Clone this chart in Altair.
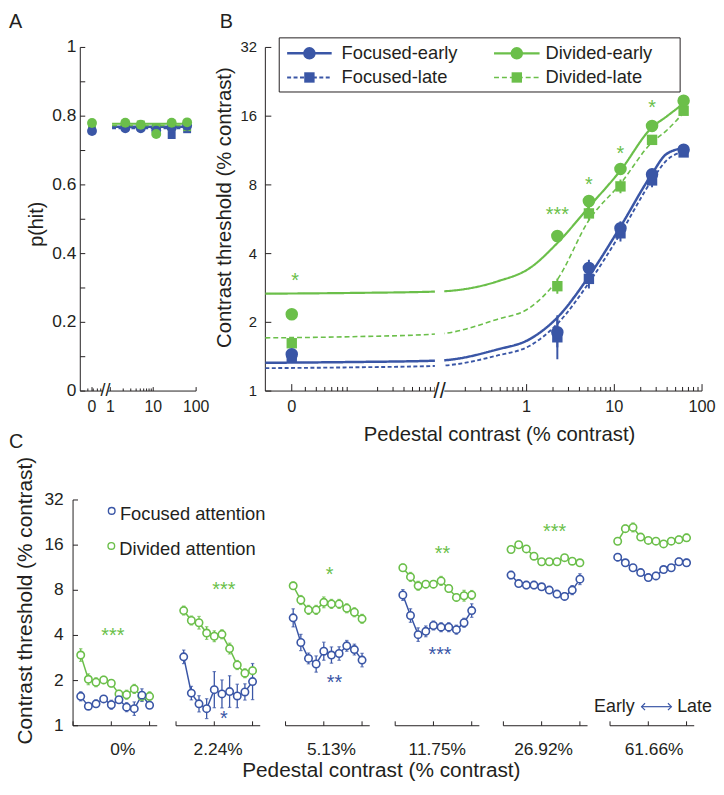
import altair as alt
import pandas as pd

INK = "#231F20"
BLUE = "#3A56A6"
GREEN = "#6BBF4A"
FONT = "Liberation Sans"

SERIES = ["Focused-early", "Divided-early", "Focused-late", "Divided-late"]
SERIES_COLOR = [BLUE, GREEN, BLUE, GREEN]
SERIES_DASH = [[1, 0], [1, 0], [4, 2.5], [5, 3]]
SERIES_WIDTH = [2.5, 1.6, 2.5, 1.6]

# ---------------- Panel A : p(hit) ----------------
A_ZERO = 0.375          # where the 0% pedestal sits on the broken log axis
A_BREAK = 0.77
a_x = [A_ZERO, 2.24, 5.13, 11.75, 26.92, 61.66]
a_focused_early = [0.757, 0.765, 0.765, 0.758, 0.766, 0.772]
a_focused_late = [0.765, 0.772, 0.770, 0.765, 0.745, 0.762]
a_divided_early = [0.780, 0.781, 0.775, 0.748, 0.781, 0.782]
a_divided_late = [0.772, 0.775, 0.776, 0.766, 0.768, 0.768]
a_fit_x = [1.1, 61.66]
a_fit_focused_early = [0.769, 0.769]
a_fit_focused_late = [0.765, 0.765]
a_fit_divided_early = [0.778, 0.778]
a_fit_divided_late = [0.773, 0.773]
a_major_ticks = [A_ZERO, 1, 10, 100]
a_major_labels = ["0", "1", "10", "100"]
a_minor_ticks = [0.3, 0.4, 0.5, 0.6, 0.7, 2, 3, 4, 5, 6, 7, 8, 9]
a_y_ticks = [i / 10 for i in range(11)]
a_y_labels = [0, 0.2, 0.4, 0.6, 0.8, 1]

# ---------------- Panel B : TvC ----------------
B_ZERO = 0.0021
B_BREAK = 0.102
b_x = [B_ZERO, 2.24, 5.13, 11.75, 26.92, 61.66]
b_focused_early = [1.45, 1.81, 3.46, 5.17, 8.90, 11.4]
b_focused_late = [1.40, 1.72, 3.10, 4.91, 8.37, 11.1]
b_divided_early = [2.17, 4.78, 6.80, 9.40, 14.5, 18.7]
b_divided_late = [1.62, 2.88, 6.00, 7.88, 12.6, 16.9]
b_focused_early_err = [0.06, 0.22, 0.12, 0.10, 0.08, 0.05]
b_focused_late_err = [0.06, 0.32, 0.14, 0.12, 0.10, 0.05]
b_divided_early_err = [0.06, 0.06, 0.07, 0.07, 0.06, 0.05]
b_divided_late_err = [0.06, 0.11, 0.10, 0.10, 0.07, 0.05]
b_fit_x = [0.00105, 0.01, 0.1, 0.46, 1.09, 2.24, 5.13, 11.75, 26.92, 39.0, 61.66]
b_fit_focused_early = [1.33, 1.34, 1.36, 1.52, 1.69, 2.10, 3.18, 5.25, 8.95, 10.9, 11.6]
b_fit_focused_late = [1.26, 1.27, 1.29, 1.43, 1.58, 1.97, 2.98, 4.90, 8.40, 10.2, 11.2]
b_fit_divided_early = [2.67, 2.69, 2.73, 3.02, 3.46, 4.45, 6.40, 9.25, 14.3, 15.9, 18.2]
b_fit_divided_late = [1.71, 1.73, 1.78, 2.06, 2.32, 3.08, 5.60, 8.10, 12.3, 13.8, 16.6]
b_star_x = [0.0023, 2.24, 5.13, 11.75, 26.92]
b_star_y = [3.19, 6.2, 8.37, 11.5, 18.3]
b_star_text = ["*", "***", "*", "*", "*"]
b_major_ticks = [B_ZERO, 1, 10, 100]
b_major_labels = ["0", "1", "10", "100"]
b_minor_ticks = ([0.003, 0.004, 0.005, 0.006, 0.007, 0.008, 0.009]
                 + [0.02, 0.03, 0.04, 0.05, 0.06, 0.07, 0.08, 0.09]
                 + [0.2, 0.3, 0.4, 0.5, 0.6, 0.7, 0.8, 0.9]
                 + [2, 3, 4, 5, 6, 7, 8, 9] + [20, 30, 40, 50, 60, 70, 80, 90])
log2_ticks = [1, 2, 4, 8, 16, 32]
# legend key of panel B (drawn in data units of panel B)
b_key_series = ["Focused-early", "Divided-early", "Focused-late", "Divided-late"]
b_key_row_y = [30.15, 30.15, 23.64, 23.64]
b_key_line_x1 = [0.00186, 0.425, 0.00186, 0.425]
b_key_line_x2 = [0.005989, 1.405, 0.005989, 1.405]
b_key_mark_x = [0.003338, 0.7727, 0.003338, 0.7727]
b_key_text_x = [0.007769, 1.641, 0.007769, 1.641]

# ---------------- Panel C : thresholds across blocks ----------------
c_groups = ["0%", "2.24%", "5.13%", "11.75%", "26.92%", "61.66%"]
c_block = list(range(1, 11))
c_focused_0 = [1.57, 1.35, 1.40, 1.51, 1.38, 1.49, 1.33, 1.30, 1.60, 1.37]
c_focused_1 = [2.88, 1.65, 1.40, 1.30, 1.74, 1.63, 1.69, 1.58, 1.68, 1.97]
c_focused_2 = [5.24, 3.59, 2.81, 2.58, 3.14, 2.96, 3.03, 3.41, 3.22, 2.74]
c_focused_3 = [7.44, 5.43, 4.05, 4.26, 4.66, 4.54, 4.54, 4.37, 4.86, 5.86]
c_focused_4 = [10.1, 8.87, 8.66, 8.66, 8.44, 8.02, 7.55, 7.28, 8.02, 9.49]
c_focused_5 = [13.3, 12.2, 11.3, 10.5, 9.72, 9.97, 11.0, 11.3, 12.4, 12.2]
c_divided_0 = [2.96, 2.04, 1.95, 2.02, 1.92, 1.63, 1.61, 1.76, 1.57, 1.57]
c_divided_1 = [5.86, 5.03, 4.86, 4.15, 3.95, 4.07, 3.27, 2.54, 2.24, 2.33]
c_divided_2 = [8.57, 6.89, 5.92, 5.92, 6.65, 6.49, 6.49, 6.07, 5.71, 5.16]
c_divided_3 = [11.3, 9.82, 8.57, 8.79, 8.79, 9.24, 8.22, 7.17, 7.36, 7.44]
c_divided_4 = [14.97, 16.1, 15.1, 13.5, 12.4, 12.4, 12.4, 13.2, 12.5, 12.2]
c_divided_5 = [16.98, 20.6, 21.0, 18.1, 17.2, 17.0, 16.3, 17.0, 17.4, 17.9]
# error half-widths in log2 units
c_focused_err_0 = [0.10, 0.06, 0.08, 0.06, 0.10, 0.08, 0.10, 0.15, 0.14, 0.06]
c_focused_err_1 = [0.15, 0.15, 0.18, 0.22, 0.40, 0.31, 0.35, 0.26, 0.18, 0.40]
c_focused_err_2 = [0.20, 0.18, 0.12, 0.18, 0.20, 0.18, 0.15, 0.12, 0.12, 0.15]
c_focused_err_3 = [0.12, 0.15, 0.15, 0.12, 0.10, 0.10, 0.10, 0.10, 0.10, 0.15]
c_focused_err_4 = [0.08, 0.06, 0.08, 0.08, 0.06, 0.06, 0.06, 0.08, 0.10, 0.12]
c_focused_err_5 = [0.08, 0.06, 0.06, 0.06, 0.06, 0.08, 0.06, 0.06, 0.08, 0.08]
c_divided_err_0 = [0.14, 0.12, 0.10, 0.08, 0.08, 0.08, 0.10, 0.10, 0.10, 0.10]
c_divided_err_1 = [0.10, 0.10, 0.14, 0.14, 0.12, 0.10, 0.12, 0.10, 0.10, 0.08]
c_divided_err_2 = [0.08, 0.10, 0.10, 0.10, 0.12, 0.10, 0.10, 0.10, 0.10, 0.10]
c_divided_err_3 = [0.08, 0.10, 0.10, 0.08, 0.08, 0.10, 0.08, 0.08, 0.12, 0.10]
c_divided_err_4 = [0.06, 0.06, 0.06, 0.06, 0.06, 0.06, 0.06, 0.06, 0.06, 0.06]
c_divided_err_5 = [0.06, 0.08, 0.10, 0.06, 0.06, 0.06, 0.06, 0.06, 0.08, 0.08]
c_star_group = [0, 1, 1, 2, 2, 3, 3, 4]
c_star_block = [5.2, 6.25, 6.25, 5.75, 6.4, 6.17, 5.86, 6.7]
c_star_y = [4.3, 8.66, 1.19, 10.9, 2.07, 14.97, 3.19, 21.0]
c_star_text = ["***", "***", "*", "*", "**", "**", "***", "***"]
c_star_att = ["Divided attention", "Divided attention", "Focused attention", "Divided attention",
              "Focused attention", "Divided attention", "Focused attention", "Divided attention"]
# legend key of panel C (data units of panel C)
c_key_att = ["Focused attention", "Divided attention"]
c_key_mark_x = [5.05, 5.0]
c_key_mark_y = [27.07, 15.81]
c_key_text_x = [6.12, 6.05]
c_key_text_y = [25.6, 15.03]

# layout of the six block groups along the panel-C axis (axis units)
C_OFF = [0, 13.46, 27.77, 42.10, 56.24, 70.18]
C_MAX = 81.18
C_SHIFT = 0.945          # the y axis of panel C sits a little left of the aligned column edge
c_label_rel = [6.5, 5.5, 6.0, 5.5, 5.25, 5.75]
c_label_pos = [round(o + r, 2) for o, r in zip(C_OFF, c_label_rel)]

# ======================= builders =======================
def rows(series, xs, ys, errs=None):
    out = []
    for i, (x, y) in enumerate(zip(xs, ys)):
        r = {"series": series, "x": x, "y": y}
        if errs is not None:
            f = 2 ** errs[i]
            r["lo"] = y / f
            r["hi"] = y * f
        out.append(r)
    return out

def df(**cols):
    return pd.DataFrame(cols)

def fmt(v):
    return f"{v:g}"

color_s = alt.Scale(domain=SERIES, range=SERIES_COLOR)
dash_s = alt.Scale(domain=SERIES, range=SERIES_DASH)
width_s = alt.Scale(domain=SERIES, range=SERIES_WIDTH)

def text_layer(data, enc_x, enc_y, size, **kw):
    return alt.Chart(data).mark_text(fontSize=size, font=FONT, color=INK, **kw).encode(
        x=enc_x, y=enc_y, text="t:N")

# ---------------- A ----------------
A_XS = alt.Scale(type="log", domain=[0.2, 100], nice=False)
A_YS = alt.Scale(domain=[0, 1], nice=False, zero=False)

def ax(field="x"):
    return alt.X(f"{field}:Q", scale=A_XS, axis=None)

def ay(field="y"):
    return alt.Y(f"{field}:Q", scale=A_YS, axis=None)

df_a = pd.DataFrame(
    rows("Focused-late", a_x, a_focused_late) + rows("Divided-late", a_x, a_divided_late)
    + rows("Focused-early", a_x, a_focused_early) + rows("Divided-early", a_x, a_divided_early))
df_a_fit = pd.DataFrame(
    rows("Focused-early", a_fit_x, a_fit_focused_early) + rows("Focused-late", a_fit_x, a_fit_focused_late)
    + rows("Divided-early", a_fit_x, a_fit_divided_early) + rows("Divided-late", a_fit_x, a_fit_divided_late))

a_layers = [
    alt.Chart(df(x=[0.2], y=[0], y2=[1])).mark_rule(color=INK, strokeWidth=1).encode(x=ax(), y=ay(), y2="y2:Q"),
    alt.Chart(df(x=[0.2], x2=[100], y=[0])).mark_rule(color=INK, strokeWidth=1).encode(x=ax(), x2="x2:Q", y=ay()),
    alt.Chart(df(x=a_minor_ticks, y=[0] * len(a_minor_ticks), y2=[0.0075] * len(a_minor_ticks))).mark_rule(
        color=INK, strokeWidth=1).encode(x=ax(), y=ay(), y2="y2:Q"),
    alt.Chart(df(x=a_major_ticks, y=[0] * 4, y2=[0.0115] * 4)).mark_rule(
        color=INK, strokeWidth=1).encode(x=ax(), y=ay(), y2="y2:Q"),
    alt.Chart(df(x=[0.2] * 11, x2=[0.261] * 11, y=a_y_ticks)).mark_rule(
        color=INK, strokeWidth=1).encode(x=ax(), x2="x2:Q", y=ay()),
    text_layer(df(x=[0.2] * 6, y=a_y_labels, t=[fmt(v) for v in a_y_labels]), ax(), ay(), 17.5,
               align="right", baseline="middle", dx=-4),
    text_layer(df(x=a_major_ticks, y=[0] * 4, t=a_major_labels), ax(), ay(), 16, baseline="top", dy=7.7),
    text_layer(df(x=[0.0193], y=[0.4856], t=["p(hit)"]), ax(), ay(), 20, angle=270, baseline="middle"),
    # panel letters "A" (above) and "C" (below panel A, at the far left of the figure)
    text_layer(df(x=[0.004366], y=[1.0576], t=["A"]), ax(), ay(), 20, align="left", baseline="alphabetic"),
    text_layer(df(x=[0.004366], y=[-0.1643], t=["C"]), ax(), ay(), 20, align="left", baseline="alphabetic"),
    alt.Chart(df_a_fit).mark_line().encode(
        x=ax(), y=ay(),
        color=alt.Color("series:N", scale=color_s, legend=None),
        strokeDash=alt.StrokeDash("series:N", scale=dash_s, legend=None),
        strokeWidth=alt.StrokeWidth("series:N", scale=width_s, legend=None)),
    alt.Chart(df(x=[0.68], x2=[0.88], y=[-0.015], y2=[0.015])).mark_rect(color="white").encode(
        x=ax(), x2="x2:Q", y=ay(), y2="y2:Q"),
    text_layer(df(x=[A_BREAK], y=[0], t=["//"]), ax(), ay(), 18, baseline="middle"),
    alt.Chart(df_a).transform_filter("indexof(datum.series, 'late') >= 0").mark_point(
        shape="square", filled=True, size=64, opacity=1).encode(
        x=ax(), y=ay(), color=alt.Color("series:N", scale=color_s, legend=None)),
    alt.Chart(df_a).transform_filter("indexof(datum.series, 'early') >= 0").mark_point(
        shape="circle", filled=True, size=100, opacity=1).encode(
        x=ax(), y=ay(), color=alt.Color("series:N", scale=color_s, legend=None)),
]
a_chart = alt.layer(*a_layers).properties(width=117, height=347)

# ---------------- B ----------------
B_XS = alt.Scale(type="log", domain=[0.00105, 100], nice=False)
B_YS = alt.Scale(type="log", base=2, domain=[1, 32], nice=False)

def bx(field="x"):
    return alt.X(f"{field}:Q", scale=B_XS, axis=None)

def by(field="y"):
    return alt.Y(f"{field}:Q", scale=B_YS, axis=None)

df_b = pd.DataFrame(
    rows("Focused-late", b_x, b_focused_late, b_focused_late_err)
    + rows("Divided-late", b_x, b_divided_late, b_divided_late_err)
    + rows("Focused-early", b_x, b_focused_early, b_focused_early_err)
    + rows("Divided-early", b_x, b_divided_early, b_divided_early_err))
df_b_fit = pd.DataFrame(
    rows("Focused-early", b_fit_x, b_fit_focused_early) + rows("Focused-late", b_fit_x, b_fit_focused_late)
    + rows("Divided-early", b_fit_x, b_fit_divided_early) + rows("Divided-late", b_fit_x, b_fit_divided_late))
df_b_key = df(series=b_key_series, y=b_key_row_y, x1=b_key_line_x1, x2=b_key_line_x2,
              xm=b_key_mark_x, xt=b_key_text_x, t=b_key_series)

b_series_enc = dict(color=alt.Color("series:N", scale=color_s, legend=None))
b_layers = [
    alt.Chart(df(x=[0.00105], y=[1], y2=[32])).mark_rule(color=INK, strokeWidth=1).encode(x=bx(), y=by(), y2="y2:Q"),
    alt.Chart(df(x=[0.00105], x2=[100], y=[1])).mark_rule(color=INK, strokeWidth=1).encode(x=bx(), x2="x2:Q", y=by()),
    alt.Chart(df(x=b_minor_ticks, y=[1] * len(b_minor_ticks), y2=[1.042] * len(b_minor_ticks))).mark_rule(
        color=INK, strokeWidth=1).encode(x=bx(), y=by(), y2="y2:Q"),
    alt.Chart(df(x=b_major_ticks, y=[1] * 4, y2=[1.0725] * 4)).mark_rule(
        color=INK, strokeWidth=1).encode(x=bx(), y=by(), y2="y2:Q"),
    alt.Chart(df(x=[0.00105] * 6, x2=[0.001228] * 6, y=log2_ticks)).mark_rule(
        color=INK, strokeWidth=1).encode(x=bx(), x2="x2:Q", y=by()),
    text_layer(df(x=[0.00105] * 6, y=log2_ticks, t=[fmt(v) for v in log2_ticks]), bx(), by(), 15,
               align="right", baseline="middle", dx=-8.4),
    text_layer(df(x=b_major_ticks, y=[1] * 4, t=b_major_labels), bx(), by(), 16.5, baseline="top", dy=8.2),
    text_layer(df(x=[0.000366], y=[6.36], t=["Contrast threshold (% contrast)"]), bx(), by(), 20.5,
               angle=270, baseline="middle"),
    text_layer(df(x=[0.4904], y=[1], t=["Pedestal contrast (% contrast)"]), bx(), by(), 20.5,
               baseline="middle", dy=44.3),
    text_layer(df(x=[0.0003177], y=[39.07], t=["B"]), bx(), by(), 20, align="left", baseline="alphabetic"),
    alt.Chart(df_b_fit).mark_line(interpolate="monotone").encode(
        x=bx(), y=by(), **b_series_enc,
        strokeDash=alt.StrokeDash("series:N", scale=dash_s, legend=None),
        strokeWidth=alt.StrokeWidth("series:N", scale=width_s, legend=None)),
    alt.Chart(df(x=[0.09], x2=[0.115], y=[0.955], y2=[32])).mark_rect(color="white").encode(
        x=bx(), x2="x2:Q", y=by(), y2="y2:Q"),
    text_layer(df(x=[B_BREAK], y=[1], t=["//"]), bx(), by(), 22, baseline="middle"),
    alt.Chart(df_b).mark_rule(strokeWidth=2).encode(x=bx(), y=by("lo"), y2="hi:Q", **b_series_enc),
    alt.Chart(df_b).transform_filter("indexof(datum.series, 'late') >= 0").mark_point(
        shape="square", filled=True, size=110, opacity=1).encode(x=bx(), y=by(), **b_series_enc),
    alt.Chart(df_b).transform_filter("indexof(datum.series, 'early') >= 0").mark_point(
        shape="circle", filled=True, size=160, opacity=1).encode(x=bx(), y=by(), **b_series_enc),
    alt.Chart(df(x=b_star_x, y=b_star_y, t=b_star_text)).mark_text(
        fontSize=20, font=FONT, color=GREEN, baseline="middle", dy=5).encode(x=bx(), y=by(), text="t:N"),
    # legend key
    alt.Chart(df(x=[0.001511], x2=[56.27], y=[20.42], y2=[35.25])).mark_rect(
        fill="white", stroke=INK, strokeWidth=1).encode(x=bx(), x2="x2:Q", y=by(), y2="y2:Q"),
    alt.Chart(df_b_key).mark_rule().encode(
        x=bx("x1"), x2="x2:Q", y=by(), **b_series_enc,
        strokeDash=alt.StrokeDash("series:N", scale=dash_s, legend=None),
        strokeWidth=alt.StrokeWidth("series:N", scale=width_s, legend=None)),
    alt.Chart(df_b_key).transform_filter("indexof(datum.series, 'late') >= 0").mark_point(
        shape="square", filled=True, size=110, opacity=1).encode(x=bx("xm"), y=by(), **b_series_enc),
    alt.Chart(df_b_key).transform_filter("indexof(datum.series, 'early') >= 0").mark_point(
        shape="circle", filled=True, size=160, opacity=1).encode(x=bx("xm"), y=by(), **b_series_enc),
    text_layer(df_b_key, bx("xt"), by(), 18.5, align="left", baseline="middle"),
]
b_chart = alt.layer(*b_layers).properties(width=441, height=347)

# ---------------- C ----------------
ATT = ["Focused attention", "Divided attention"]
C_XS = alt.Scale(domain=[C_SHIFT, C_MAX + C_SHIFT], nice=False, zero=False)
C_YS = alt.Scale(type="log", base=2, domain=[1, 32], nice=False)
c_color = alt.Scale(domain=ATT, range=[BLUE, GREEN])

def cx(field="x"):
    return alt.X(f"{field}:Q", scale=C_XS, axis=None)

def cy(field="y"):
    return alt.Y(f"{field}:Q", scale=C_YS, axis=None)

c_focused = [c_focused_0, c_focused_1, c_focused_2, c_focused_3, c_focused_4, c_focused_5]
c_divided = [c_divided_0, c_divided_1, c_divided_2, c_divided_3, c_divided_4, c_divided_5]
c_focused_err = [c_focused_err_0, c_focused_err_1, c_focused_err_2, c_focused_err_3, c_focused_err_4, c_focused_err_5]
c_divided_err = [c_divided_err_0, c_divided_err_1, c_divided_err_2, c_divided_err_3, c_divided_err_4, c_divided_err_5]
c_rows = []
for g in range(6):
    for att, vals, errs in (("Divided attention", c_divided[g], c_divided_err[g]),
                            ("Focused attention", c_focused[g], c_focused_err[g])):
        for b, v, e in zip(c_block, vals, errs):
            f = 2 ** e
            c_rows.append({"group": c_groups[g], "attention": att, "x": C_OFF[g] + b,
                           "y": v, "lo": v / f, "hi": v * f})
df_c = pd.DataFrame(c_rows)
c_att_enc = dict(color=alt.Color("attention:N", scale=c_color, legend=None))

c_layers = [
    alt.Chart(df(x=[0], y=[1], y2=[32])).mark_rule(color=INK, strokeWidth=1).encode(x=cx(), y=cy(), y2="y2:Q"),
    alt.Chart(df(x=C_OFF, x2=[o + 11 for o in C_OFF], y=[1] * 6)).mark_rule(color=INK, strokeWidth=1).encode(
        x=cx(), x2="x2:Q", y=cy()),
    alt.Chart(df(x=[o + k for o in C_OFF for k in (0, 5, 10)], y=[1] * 18, y2=[1.07] * 18)).mark_rule(
        color=INK, strokeWidth=1).encode(x=cx(), y=cy(), y2="y2:Q"),
    alt.Chart(df(x=[0] * 6, x2=[0.647] * 6, y=log2_ticks)).mark_rule(color=INK, strokeWidth=1).encode(
        x=cx(), x2="x2:Q", y=cy()),
    text_layer(df(x=[0] * 6, y=log2_ticks, t=[fmt(v) for v in log2_ticks]), cx(), cy(), 17.5,
               align="right", baseline="middle", dx=-9.4),
    text_layer(df(x=c_label_pos, y=[1] * 6, t=c_groups), cx(), cy(), 17.5, baseline="top", dy=16),
    text_layer(df(x=[-6.17], y=[6.82], t=["Contrast threshold (% contrast)"]), cx(), cy(), 21,
               angle=270, baseline="middle"),
    text_layer(df(x=[40.29], y=[1], t=["Pedestal contrast (% contrast)"]), cx(), cy(), 21,
               baseline="middle", dy=46),
    alt.Chart(df_c).mark_line(strokeWidth=1.5).encode(x=cx(), y=cy(), detail="group:N", **c_att_enc),
    alt.Chart(df_c).mark_rule(strokeWidth=1.3).encode(x=cx(), y=cy("lo"), y2="hi:Q", **c_att_enc),
    alt.Chart(df_c).mark_tick(orient="horizontal", size=3.5, thickness=1.2).encode(
        x=cx(), y=cy("lo"), **c_att_enc),
    alt.Chart(df_c).mark_tick(orient="horizontal", size=3.5, thickness=1.2).encode(
        x=cx(), y=cy("hi"), **c_att_enc),
    alt.Chart(df_c).mark_point(shape="circle", size=56, strokeWidth=1.6, filled=False, fill="white",
                               opacity=1).encode(x=cx(), y=cy(), **c_att_enc),
    alt.Chart(df(x=[C_OFF[g] + b for g, b in zip(c_star_group, c_star_block)], y=c_star_y, t=c_star_text,
                 attention=c_star_att)).mark_text(fontSize=20, font=FONT, baseline="middle", dy=5).encode(
        x=cx(), y=cy(), text="t:N", **c_att_enc),
    # legend key
    alt.Chart(df(x=c_key_mark_x, y=c_key_mark_y, attention=c_key_att)).mark_point(
        shape="circle", size=45, strokeWidth=1.4, filled=False, fill="white", opacity=1).encode(
        x=cx(), y=cy(), **c_att_enc),
    text_layer(df(x=c_key_text_x, y=c_key_text_y, t=c_key_att), cx(), cy(), 18.5, align="left",
               baseline="middle"),
    # early <-> late annotation
    text_layer(df(x=[73.4], y=[1.34], t=["Early"]), cx(), cy(), 18, align="right", baseline="middle"),
    text_layer(df(x=[78.95], y=[1.34], t=["Late"]), cx(), cy(), 18, align="left", baseline="middle"),
    alt.Chart(df(x=[74.3], x2=[78.2], y=[1.34])).mark_rule(color=BLUE, strokeWidth=1.2).encode(
        x=cx(), x2="x2:Q", y=cy()),
    alt.Chart(df(x=[74.3], y=[1.34])).mark_point(shape="M1,-1L0,0L1,1", size=49, filled=False, color=BLUE,
                                                 strokeWidth=1.2, opacity=1).encode(x=cx(), y=cy()),
    alt.Chart(df(x=[78.2], y=[1.34])).mark_point(shape="M-1,-1L0,0L-1,1", size=49, filled=False, color=BLUE,
                                                 strokeWidth=1.2, opacity=1).encode(x=cx(), y=cy()),
]
c_chart = alt.layer(*c_layers).properties(width=627.3, height=228)

top = alt.hconcat(a_chart, b_chart, spacing=4.9)
chart = alt.vconcat(top, c_chart, spacing=4).properties(padding=0).configure_view(stroke=None)

chart.save("out.html", embed_options={"renderer": "svg", "actions": False})
